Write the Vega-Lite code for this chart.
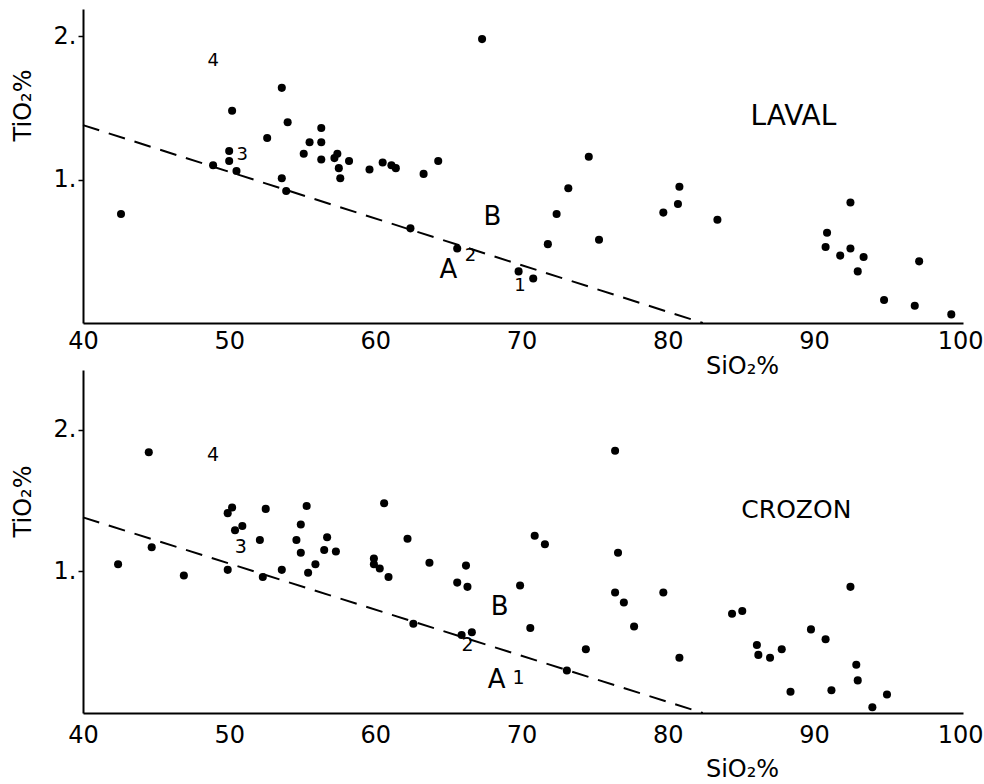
{
  "$schema": "https://vega.github.io/schema/vega-lite/v6.json",
  "background": "white",
  "padding": {"left": 11, "top": 9, "right": 5, "bottom": 5},
  "bounds": "flush",
  "spacing": 47,
  "config": {
    "font": "DejaVu Sans",
    "view": {"stroke": null},
    "axis": {"grid": false, "domainColor": "black", "domainWidth": 2, "tickColor": "black", "tickWidth": 1.5, "labelColor": "black", "titleColor": "black", "labelFont": "DejaVu Sans", "titleFont": "DejaVu Sans", "labelFontSize": 24, "titleFontSize": 24, "titleFontWeight": "normal"}
  },
  "datasets": {
    "points": [
      {"site": "LAVAL", "x": 42.6, "y": 0.76}, {"site": "LAVAL", "x": 48.9, "y": 1.10}, {"site": "LAVAL", "x": 50.2, "y": 1.48}, {"site": "LAVAL", "x": 50.0, "y": 1.20}, {"site": "LAVAL", "x": 50.0, "y": 1.13}, {"site": "LAVAL", "x": 50.5, "y": 1.06}, {"site": "LAVAL", "x": 52.6, "y": 1.29}, {"site": "LAVAL", "x": 53.6, "y": 1.64}, {"site": "LAVAL", "x": 53.6, "y": 1.01}, {"site": "LAVAL", "x": 53.9, "y": 0.92}, {"site": "LAVAL", "x": 54.0, "y": 1.40}, {"site": "LAVAL", "x": 55.1, "y": 1.18}, {"site": "LAVAL", "x": 55.5, "y": 1.26}, {"site": "LAVAL", "x": 56.3, "y": 1.26}, {"site": "LAVAL", "x": 56.3, "y": 1.36}, {"site": "LAVAL", "x": 56.3, "y": 1.14}, {"site": "LAVAL", "x": 57.2, "y": 1.15}, {"site": "LAVAL", "x": 57.4, "y": 1.18}, {"site": "LAVAL", "x": 57.5, "y": 1.08}, {"site": "LAVAL", "x": 57.6, "y": 1.01}, {"site": "LAVAL", "x": 58.2, "y": 1.13}, {"site": "LAVAL", "x": 59.6, "y": 1.07}, {"site": "LAVAL", "x": 60.5, "y": 1.12}, {"site": "LAVAL", "x": 61.1, "y": 1.10}, {"site": "LAVAL", "x": 61.4, "y": 1.08}, {"site": "LAVAL", "x": 62.4, "y": 0.66}, {"site": "LAVAL", "x": 63.3, "y": 1.04}, {"site": "LAVAL", "x": 64.3, "y": 1.13}, {"site": "LAVAL", "x": 65.6, "y": 0.52}, {"site": "LAVAL", "x": 67.3, "y": 1.98}, {"site": "LAVAL", "x": 69.8, "y": 0.36}, {"site": "LAVAL", "x": 70.8, "y": 0.31}, {"site": "LAVAL", "x": 71.8, "y": 0.55}, {"site": "LAVAL", "x": 72.4, "y": 0.76}, {"site": "LAVAL", "x": 73.2, "y": 0.94}, {"site": "LAVAL", "x": 74.6, "y": 1.16}, {"site": "LAVAL", "x": 75.3, "y": 0.58}, {"site": "LAVAL", "x": 79.7, "y": 0.77}, {"site": "LAVAL", "x": 80.7, "y": 0.83}, {"site": "LAVAL", "x": 80.8, "y": 0.95}, {"site": "LAVAL", "x": 83.4, "y": 0.72}, {"site": "LAVAL", "x": 90.8, "y": 0.53}, {"site": "LAVAL", "x": 90.9, "y": 0.63}, {"site": "LAVAL", "x": 91.8, "y": 0.47}, {"site": "LAVAL", "x": 92.5, "y": 0.84}, {"site": "LAVAL", "x": 92.5, "y": 0.52}, {"site": "LAVAL", "x": 93.0, "y": 0.36}, {"site": "LAVAL", "x": 93.4, "y": 0.46}, {"site": "LAVAL", "x": 94.8, "y": 0.16}, {"site": "LAVAL", "x": 96.9, "y": 0.12}, {"site": "LAVAL", "x": 97.2, "y": 0.43}, {"site": "LAVAL", "x": 99.4, "y": 0.06},
      {"site": "CROZON", "x": 42.4, "y": 1.05}, {"site": "CROZON", "x": 44.5, "y": 1.84}, {"site": "CROZON", "x": 44.7, "y": 1.17}, {"site": "CROZON", "x": 46.9, "y": 0.97}, {"site": "CROZON", "x": 49.9, "y": 1.01}, {"site": "CROZON", "x": 49.9, "y": 1.41}, {"site": "CROZON", "x": 50.2, "y": 1.45}, {"site": "CROZON", "x": 50.4, "y": 1.29}, {"site": "CROZON", "x": 50.9, "y": 1.32}, {"site": "CROZON", "x": 52.1, "y": 1.22}, {"site": "CROZON", "x": 52.3, "y": 0.96}, {"site": "CROZON", "x": 52.5, "y": 1.44}, {"site": "CROZON", "x": 53.6, "y": 1.01}, {"site": "CROZON", "x": 54.6, "y": 1.22}, {"site": "CROZON", "x": 54.9, "y": 1.33}, {"site": "CROZON", "x": 54.9, "y": 1.13}, {"site": "CROZON", "x": 55.3, "y": 1.46}, {"site": "CROZON", "x": 55.4, "y": 0.99}, {"site": "CROZON", "x": 55.9, "y": 1.05}, {"site": "CROZON", "x": 56.5, "y": 1.15}, {"site": "CROZON", "x": 56.7, "y": 1.24}, {"site": "CROZON", "x": 57.3, "y": 1.14}, {"site": "CROZON", "x": 59.9, "y": 1.09}, {"site": "CROZON", "x": 59.9, "y": 1.05}, {"site": "CROZON", "x": 60.3, "y": 1.02}, {"site": "CROZON", "x": 60.6, "y": 1.48}, {"site": "CROZON", "x": 60.9, "y": 0.96}, {"site": "CROZON", "x": 62.2, "y": 1.23}, {"site": "CROZON", "x": 62.6, "y": 0.63}, {"site": "CROZON", "x": 63.7, "y": 1.06}, {"site": "CROZON", "x": 65.6, "y": 0.92}, {"site": "CROZON", "x": 65.9, "y": 0.55}, {"site": "CROZON", "x": 66.2, "y": 1.04}, {"site": "CROZON", "x": 66.3, "y": 0.89}, {"site": "CROZON", "x": 66.6, "y": 0.57}, {"site": "CROZON", "x": 69.9, "y": 0.90}, {"site": "CROZON", "x": 70.6, "y": 0.60}, {"site": "CROZON", "x": 70.9, "y": 1.25}, {"site": "CROZON", "x": 71.6, "y": 1.19}, {"site": "CROZON", "x": 73.1, "y": 0.30}, {"site": "CROZON", "x": 74.4, "y": 0.45}, {"site": "CROZON", "x": 76.4, "y": 1.85}, {"site": "CROZON", "x": 76.4, "y": 0.85}, {"site": "CROZON", "x": 76.6, "y": 1.13}, {"site": "CROZON", "x": 77.0, "y": 0.78}, {"site": "CROZON", "x": 77.7, "y": 0.61}, {"site": "CROZON", "x": 79.7, "y": 0.85}, {"site": "CROZON", "x": 80.8, "y": 0.39}, {"site": "CROZON", "x": 84.4, "y": 0.70}, {"site": "CROZON", "x": 85.1, "y": 0.72}, {"site": "CROZON", "x": 86.1, "y": 0.48}, {"site": "CROZON", "x": 86.2, "y": 0.41}, {"site": "CROZON", "x": 87.0, "y": 0.39}, {"site": "CROZON", "x": 87.8, "y": 0.45}, {"site": "CROZON", "x": 88.4, "y": 0.15}, {"site": "CROZON", "x": 89.8, "y": 0.59}, {"site": "CROZON", "x": 90.8, "y": 0.52}, {"site": "CROZON", "x": 91.2, "y": 0.16}, {"site": "CROZON", "x": 92.5, "y": 0.89}, {"site": "CROZON", "x": 92.9, "y": 0.34}, {"site": "CROZON", "x": 93.0, "y": 0.23}, {"site": "CROZON", "x": 94.0, "y": 0.04}, {"site": "CROZON", "x": 95.0, "y": 0.13}
    ],
    "labels": [
      {"site": "LAVAL", "kind": "num", "text": "4", "x": 48.9, "y": 1.83},
      {"site": "LAVAL", "kind": "num", "text": "3", "x": 50.9, "y": 1.17},
      {"site": "LAVAL", "kind": "num", "text": "2", "x": 66.5, "y": 0.47},
      {"site": "LAVAL", "kind": "num", "text": "1", "x": 69.9, "y": 0.26},
      {"site": "LAVAL", "kind": "zone", "text": "A", "x": 65.0, "y": 0.37},
      {"site": "LAVAL", "kind": "zone", "text": "B", "x": 68.0, "y": 0.74},
      {"site": "LAVAL", "kind": "region", "text": "LAVAL", "x": 88.6, "y": 1.44},
      {"site": "CROZON", "kind": "num", "text": "4", "x": 48.9, "y": 1.82},
      {"site": "CROZON", "kind": "num", "text": "3", "x": 50.8, "y": 1.17},
      {"site": "CROZON", "kind": "num", "text": "2", "x": 66.3, "y": 0.48},
      {"site": "CROZON", "kind": "num", "text": "1", "x": 69.8, "y": 0.25},
      {"site": "CROZON", "kind": "zone", "text": "A", "x": 68.3, "y": 0.23},
      {"site": "CROZON", "kind": "zone", "text": "B", "x": 68.5, "y": 0.75},
      {"site": "CROZON", "kind": "region", "text": "CROZON", "x": 88.8, "y": 1.43}
    ],
    "boundary": [
      {"x": 40, "y": 1.38},
      {"x": 82.4, "y": 0}
    ]
  },
  "vconcat": [
    {
      "width": 880,
      "height": 314,
      "encoding": {
        "x": {"field": "x", "type": "quantitative", "scale": {"domain": [40, 100.2], "nice": false, "zero": false},
          "axis": {"values": [40, 50, 60, 70, 80, 90, 100], "ticks": false, "labelPadding": 6, "labelFlush": false, "title": "SiO₂%", "titleX": 659, "titleY": 43, "titleBaseline": "middle", "titleAlign": "center"}},
        "y": {"field": "y", "type": "quantitative", "scale": {"domain": [0, 2.19], "nice": false},
          "axis": {"values": [1, 2], "labelExpr": "datum.value + '.'", "tickSize": 5, "labelPadding": 2, "title": "TiO₂%", "titleY": 96, "titleX": -60, "titleAngle": 270, "titleBaseline": "middle", "titleAlign": "center"}}
      },
      "layer": [
        {"data": {"name": "boundary"}, "mark": {"type": "line", "color": "black", "strokeWidth": 2, "strokeDash": [17, 10]}},
        {"data": {"name": "points"}, "transform": [{"filter": "datum.site === 'LAVAL'"}], "mark": {"type": "circle", "size": 65, "color": "black", "opacity": 1}},
        {"data": {"name": "labels"}, "transform": [{"filter": "datum.site === 'LAVAL' && datum.kind === 'num'"}], "mark": {"type": "text", "fontSize": 18, "color": "black", "align": "center", "baseline": "middle"}, "encoding": {"text": {"field": "text"}}},
        {"data": {"name": "labels"}, "transform": [{"filter": "datum.site === 'LAVAL' && datum.kind === 'zone'"}], "mark": {"type": "text", "fontSize": 26, "color": "black", "align": "center", "baseline": "middle"}, "encoding": {"text": {"field": "text"}}},
        {"data": {"name": "labels"}, "transform": [{"filter": "datum.site === 'LAVAL' && datum.kind === 'region'"}], "mark": {"type": "text", "fontSize": 28, "color": "black", "align": "center", "baseline": "middle"}, "encoding": {"text": {"field": "text"}}}
      ]
    },
    {
      "width": 880,
      "height": 343,
      "encoding": {
        "x": {"field": "x", "type": "quantitative", "scale": {"domain": [40, 100.2], "nice": false, "zero": false},
          "axis": {"values": [40, 50, 60, 70, 80, 90, 100], "ticks": false, "labelPadding": 10, "labelFlush": false, "title": "SiO₂%", "titleX": 659, "titleY": 56, "titleBaseline": "middle", "titleAlign": "center"}},
        "y": {"field": "y", "type": "quantitative", "scale": {"domain": [0, 2.42], "nice": false},
          "axis": {"values": [1, 2], "labelExpr": "datum.value + '.'", "tickSize": 5, "labelPadding": 2, "title": "TiO₂%", "titleY": 131, "titleX": -60, "titleAngle": 270, "titleBaseline": "middle", "titleAlign": "center"}}
      },
      "layer": [
        {"data": {"name": "boundary"}, "mark": {"type": "line", "color": "black", "strokeWidth": 2, "strokeDash": [17, 10]}},
        {"data": {"name": "points"}, "transform": [{"filter": "datum.site === 'CROZON'"}], "mark": {"type": "circle", "size": 65, "color": "black", "opacity": 1}},
        {"data": {"name": "labels"}, "transform": [{"filter": "datum.site === 'CROZON' && datum.kind === 'num'"}], "mark": {"type": "text", "fontSize": 19, "color": "black", "align": "center", "baseline": "middle"}, "encoding": {"text": {"field": "text"}}},
        {"data": {"name": "labels"}, "transform": [{"filter": "datum.site === 'CROZON' && datum.kind === 'zone'"}], "mark": {"type": "text", "fontSize": 26, "color": "black", "align": "center", "baseline": "middle"}, "encoding": {"text": {"field": "text"}}},
        {"data": {"name": "labels"}, "transform": [{"filter": "datum.site === 'CROZON' && datum.kind === 'region'"}], "mark": {"type": "text", "fontSize": 25, "color": "black", "align": "center", "baseline": "middle"}, "encoding": {"text": {"field": "text"}}}
      ]
    }
  ]
}
